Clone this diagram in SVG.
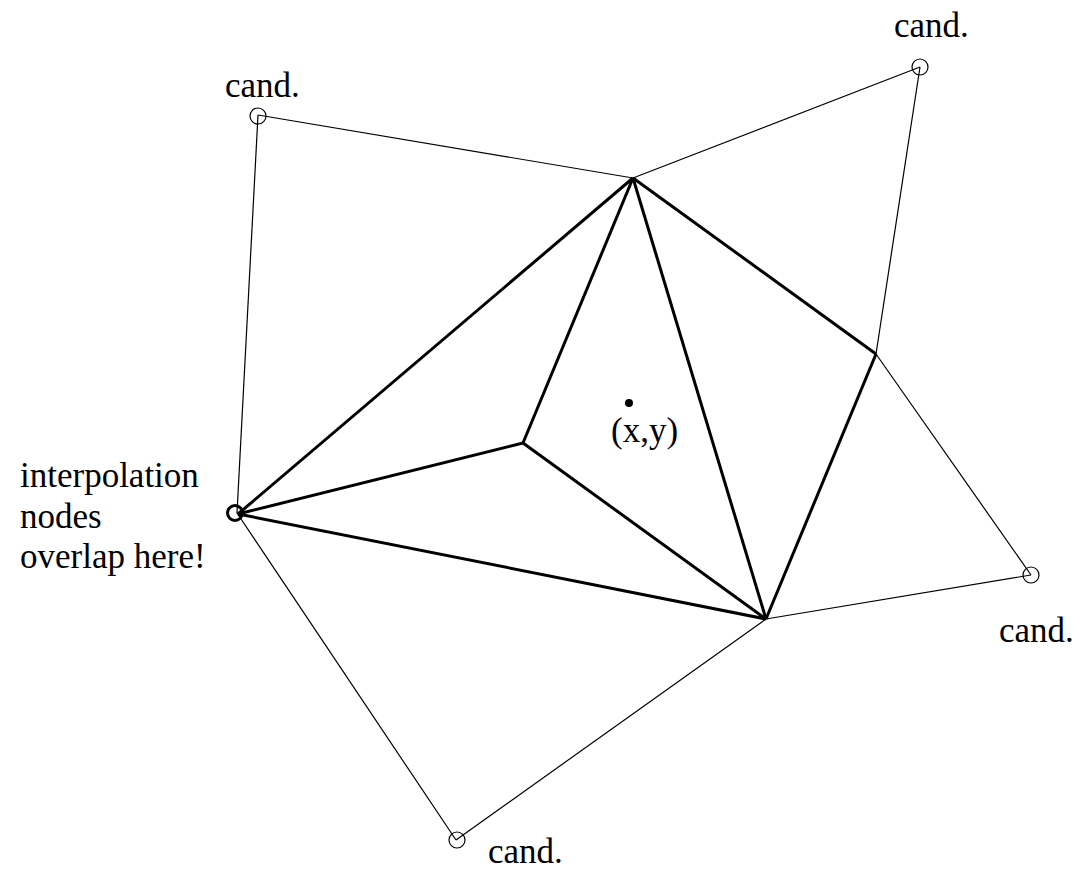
<svg xmlns="http://www.w3.org/2000/svg" width="1088" height="871" viewBox="0 0 1088 871">
<style>
.thin{stroke:#000;stroke-width:1.2;fill:none}
.thick{stroke:#000;stroke-width:3;fill:none;stroke-linejoin:round}
.cand{stroke:#000;stroke-width:1.2;fill:none}
text{font-family:"Liberation Serif","Times New Roman",serif;font-size:35px;fill:#000}
</style>
<rect width="1088" height="871" fill="#fff"/>
<g id="connectors">
<line class="thin" x1="258" y1="115" x2="237" y2="513"/>
<line class="thin" x1="258" y1="115" x2="633" y2="178"/>
<line class="thin" x1="633" y1="178" x2="920" y2="67"/>
<line class="thin" x1="920" y1="67" x2="876" y2="354"/>
<line class="thin" x1="876" y1="354" x2="1031" y2="575"/>
<line class="thin" x1="1031" y1="575" x2="766" y2="619"/>
<line class="thin" x1="766" y1="619" x2="456" y2="840"/>
<line class="thin" x1="456" y1="840" x2="237" y2="513"/>
<line class="thick" x1="238" y1="514" x2="633" y2="178"/>
<line class="thick" x1="633" y1="178" x2="523" y2="443"/>
<line class="thick" x1="523" y1="443" x2="238" y2="514"/>
<line class="thick" x1="523" y1="443" x2="766" y2="619"/>
<line class="thick" x1="238" y1="514" x2="766" y2="619"/>
<line class="thick" x1="633" y1="178" x2="766" y2="619"/>
<line class="thick" x1="633" y1="178" x2="876" y2="354"/>
<line class="thick" x1="876" y1="354" x2="766" y2="619"/>
</g>
<g id="cand-topleft"><circle class="cand" cx="258" cy="116" r="8"/><text x="225" y="97">cand.</text></g>
<g id="cand-topright"><circle class="cand" cx="920" cy="67" r="8"/><text x="894" y="37">cand.</text></g>
<g id="cand-right"><circle class="cand" cx="1031" cy="575" r="8"/><text x="999" y="642">cand.</text></g>
<g id="cand-bottom"><circle class="cand" cx="457" cy="840" r="8"/><text x="488" y="863">cand.</text></g>
<g id="overlap-node"><circle cx="235" cy="513" r="7.5" fill="none" stroke="#000" stroke-width="3"/>
<text x="20" y="487">interpolation</text><text x="20" y="528">nodes</text><text x="20" y="568">overlap here!</text></g>
<g id="point-xy"><circle cx="629" cy="403" r="4" fill="#000"/><text x="611" y="442">(x,y)</text></g>
</svg>
